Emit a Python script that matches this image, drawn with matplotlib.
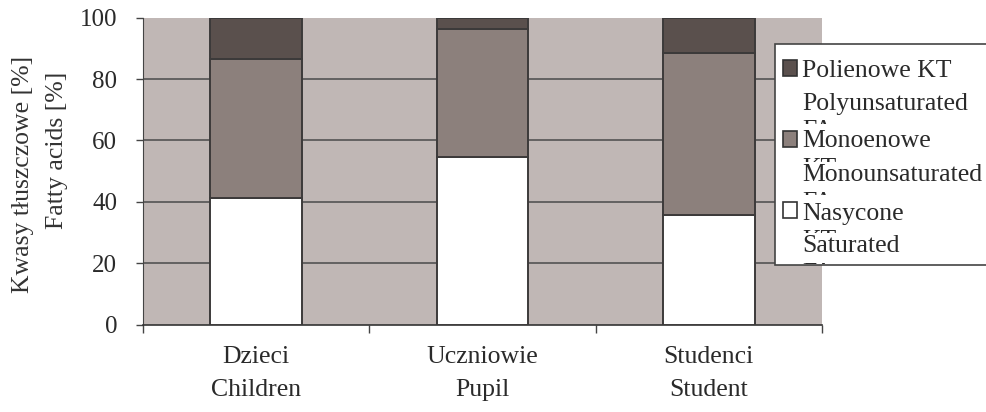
import matplotlib
matplotlib.use("Agg")
import matplotlib.pyplot as plt
from matplotlib.patches import Rectangle
from matplotlib.transforms import Bbox
import numpy as np

categories = [("Dzieci", "Children"), ("Uczniowie", "Pupil"), ("Studenci", "Student")]
saturated = [41.3, 54.6, 35.8]
monounsaturated = [45.2, 41.8, 52.8]
polyunsaturated = [13.5, 3.6, 11.4]
yticks = [0, 20, 40, 60, 80, 100]

BG = "#C0B7B5"
C_SAT = "#FFFFFF"
C_MONO = "#8C807C"
C_POLY = "#5A504D"
EDGE = "#3C3A3A"
TXT = "#2a2a2a"
FONT = "Liberation Serif"
FS = 18.5

W, H = 986, 412
fig = plt.figure(figsize=(W / 100, H / 100), dpi=100)
plt.rcParams['font.family'] = [FONT, 'DejaVu Serif']

ax = fig.add_axes([143 / W, 1 - 324.7 / H, (822 - 143) / W, (324.7 - 17.7) / H])
ax.set_facecolor(BG)

x = np.arange(len(categories)) + 0.5
bw = 0.405
sat = np.array(saturated)
mono = np.array(monounsaturated)
poly = np.array(polyunsaturated)
ax.bar(x, sat, bw, color=C_SAT, edgecolor=EDGE, linewidth=1.4, zorder=3)
ax.bar(x, mono, bw, bottom=sat, color=C_MONO, edgecolor=EDGE, linewidth=1.4, zorder=3)
ax.bar(x, poly, bw, bottom=sat + mono, color=C_POLY, edgecolor=EDGE, linewidth=1.4, zorder=3)

ax.set_xlim(0, 3)
ax.set_ylim(0, 100)
ax.set_yticks(yticks)
ax.set_yticklabels([str(v) for v in yticks], fontsize=18, color=TXT)
for v in yticks[1:-1]:
    ax.axhline(v, color="#4a4a4a", linewidth=1.1, zorder=1)

ax.set_xticks([0, 1, 2, 3])
ax.set_xticklabels([])
ax.tick_params(axis='x', direction='out', length=5.8, width=1, color="#444444")
ax.tick_params(axis='y', direction='out', length=5, width=1, color="#444444", pad=13.5)
for s in ["top", "right"]:
    ax.spines[s].set_visible(False)
ax.spines["left"].set_color("#444444")
ax.spines["bottom"].set_color("#333333")
ax.spines["bottom"].set_linewidth(1.2)

# category labels, two lines each
for xi, (l1, l2) in zip(x, categories):
    xf = ax.transData.transform((xi, 0))[0] / W
    fig.text(xf, 1 - 357 / H, l1, ha="center", va="center", fontsize=FS, color=TXT)
    fig.text(xf, 1 - 390 / H, l2, ha="center", va="center", fontsize=FS, color=TXT)

# y-axis label (two lines)
fig.text(23 / W, 1 - 174 / H, "Kwasy tłuszczowe [%]", rotation=90, ha="center",
         va="center", fontsize=FS, color="#333333")
fig.text(57 / W, 1 - 150 / H, "Fatty acids [%]", rotation=90, ha="center",
         va="center", fontsize=FS, color="#333333")

# legend box (cut by the figure edge)
lx0, ly0, ly1 = 775, 44, 265
fig.patches.append(Rectangle((lx0 / W, 1 - ly1 / H), (W + 20 - lx0) / W, (ly1 - ly0) / H,
                             transform=fig.transFigure, facecolor="white",
                             edgecolor="#444444", linewidth=1.2, zorder=5))

def ltext(px, baseline, s, top, bottom):
    t = fig.text(px / W, 1 - baseline / H, s, ha="left", va="baseline", fontsize=FS,
                 color=TXT, zorder=6)
    t.set_clip_box(Bbox.from_extents(lx0, H - bottom, W, H - top))
    t.set_clip_on(True)
    return t

def marker(py, color):
    fig.patches.append(Rectangle((783 / W, 1 - (py + 8) / H), 14 / W, 16 / H,
                                 transform=fig.transFigure, facecolor=color,
                                 edgecolor="#333333", linewidth=1.2, zorder=6))

tx = 802
# Polyunsaturated entry
marker(68, C_POLY)
ltext(tx, 77, "Polienowe KT", 45, 125)
ltext(tx, 110, "Polyunsaturated", 45, 125)
ltext(tx, 137, "FA", 45, 124)
# Monounsaturated entry
marker(139, C_MONO)
ltext(tx, 147, "Monoenowe", 125, 200)
ltext(tx, 175, "KT", 125, 162)
ltext(tx, 181, "Monounsaturated", 125, 200)
ltext(tx, 209, "FA", 125, 195)
# Saturated entry
marker(210, C_SAT)
ltext(tx, 220, "Nasycone", 197, 264)
ltext(tx, 247, "KT", 197, 233)
ltext(tx, 252, "Saturated", 197, 264)
ltext(tx, 280, "FA", 197, 264)

fig.savefig("out.png", dpi=100)
